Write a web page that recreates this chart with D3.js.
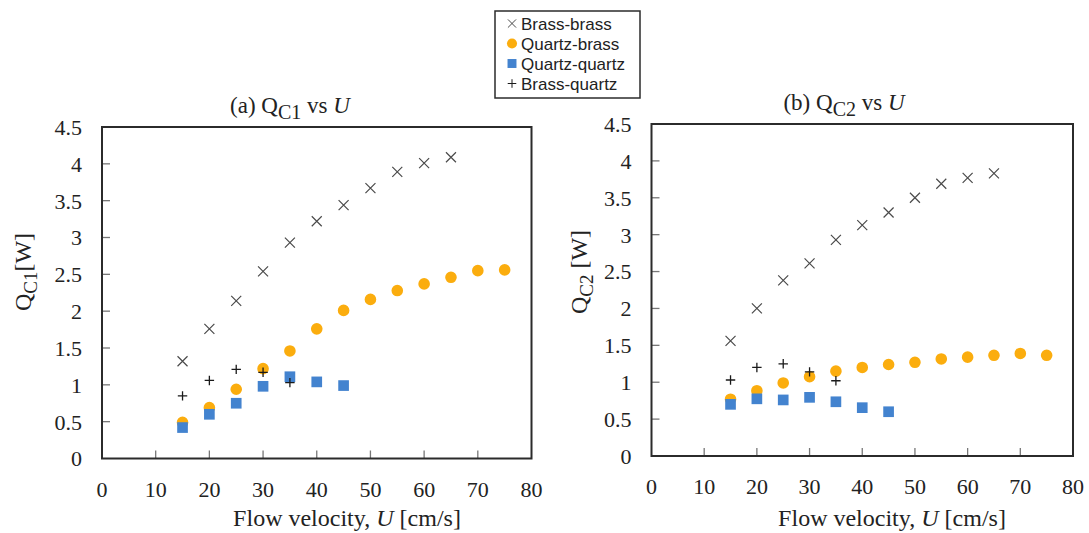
<!DOCTYPE html>
<html>
<head>
<meta charset="utf-8">
<script src="https://cdn.jsdelivr.net/npm/d3@7"></script>
<style>
  body { margin: 0; background: #fff; }
  svg { display: block; }
  .tick-label { font-family: "Liberation Serif", "Times New Roman", serif; font-size: 22px; fill: #222; }
  .axis-title { font-family: "Liberation Serif", "Times New Roman", serif; font-size: 24px; fill: #222; }
  .legend-text { font-family: "Liberation Sans", Arial, sans-serif; font-size: 17px; fill: #222; }
</style>
</head>
<body>
<div class="visHolder"></div>
<script>
// flow velocity values (cm/s), shared by every series
var velocity = [15, 20, 25, 30, 35, 40, 45, 50, 55, 60, 65, 70, 75];

// (a) Q_C1 values [W]
var brassBrass1 = [1.32, 1.76, 2.14, 2.54, 2.93, 3.22, 3.44, 3.67, 3.89, 4.01, 4.09];
var quartzBrass1 = [0.49, 0.69, 0.94, 1.22, 1.46, 1.76, 2.01, 2.16, 2.28, 2.37, 2.46, 2.55, 2.56];
var quartzQuartz1 = [0.42, 0.60, 0.75, 0.98, 1.11, 1.04, 0.99];
var brassQuartz1 = [0.85, 1.06, 1.21, 1.17, 1.03];

// (b) Q_C2 values [W]
var brassBrass2 = [1.56, 2.00, 2.38, 2.61, 2.93, 3.13, 3.30, 3.50, 3.69, 3.77, 3.83];
var quartzBrass2 = [0.77, 0.885, 0.99, 1.075, 1.15, 1.20, 1.24, 1.27, 1.315, 1.34, 1.365, 1.39, 1.365];
var quartzQuartz2 = [0.70, 0.775, 0.76, 0.795, 0.735, 0.655, 0.60];
var brassQuartz2 = [1.03, 1.20, 1.25, 1.14, 1.02];

// axis ticks
var xTicks = [0, 10, 20, 30, 40, 50, 60, 70, 80];
var yTicks = [0, 0.5, 1, 1.5, 2, 2.5, 3, 3.5, 4, 4.5];

// series names for the legend
var seriesNames = ['Brass-brass', 'Quartz-brass', 'Quartz-quartz', 'Brass-quartz'];

var width = 1089,
    height = 533;

// marker look for each series, in drawing order
var markers = [
  { type: d3.symbolX, size: 67, fill: 'none', stroke: '#4a4a4a', sw: 1.2 },
  { type: d3.symbolCircle, size: 106, fill: '#FBAD0E', stroke: 'none', sw: 0 },
  { type: d3.symbolSquare, size: 114, fill: '#4383CF', stroke: 'none', sw: 0 },
  { type: d3.symbolPlus, size: 31, fill: 'none', stroke: '#1a1a1a', sw: 1.3 }
];

var svg = d3.select('.visHolder').append('svg').attr('width', width).attr('height', height);

// one panel = frame, ticks, labels and the four series
function drawPanel(p) {
  var xScale = d3.scaleLinear().domain([0, 80]).range([p.left, p.right]);
  var yScale = d3.scaleLinear().domain([0, 4.5]).range([p.bottom, p.top]);
  var g = svg.append('g');

  // inner tick marks
  g.selectAll('.xt').data(xTicks.slice(1, -1)).enter().append('line')
    .attr('x1', function (d) { return xScale(d); }).attr('x2', function (d) { return xScale(d); })
    .attr('y1', p.bottom).attr('y2', p.bottom - 8)
    .attr('stroke', '#777').attr('stroke-width', 1.3);
  g.selectAll('.yt').data(yTicks.slice(1, -1)).enter().append('line')
    .attr('y1', function (d) { return yScale(d); }).attr('y2', function (d) { return yScale(d); })
    .attr('x1', p.left).attr('x2', p.left + 8)
    .attr('stroke', '#777').attr('stroke-width', 1.3);

  // frame
  g.append('rect').attr('x', p.left).attr('y', p.top)
    .attr('width', p.right - p.left).attr('height', p.bottom - p.top)
    .attr('fill', 'none').attr('stroke', '#2b2b2b').attr('stroke-width', 2);

  // tick labels
  g.selectAll('.xl').data(xTicks).enter().append('text').attr('class', 'tick-label')
    .attr('x', function (d) { return xScale(d); }).attr('y', p.bottom + 38)
    .attr('text-anchor', 'middle').text(function (d) { return d; });
  g.selectAll('.yl').data(yTicks).enter().append('text').attr('class', 'tick-label')
    .attr('x', p.left - 20).attr('y', function (d) { return yScale(d); })
    .attr('dy', '0.36em').attr('text-anchor', 'end').text(function (d) { return d; });

  // series, drawn in legend order so later ones sit on top
  p.series.forEach(function (vals, k) {
    var m = markers[k];
    var sym = d3.symbol().type(m.type).size(m.size);
    g.selectAll('.s' + k).data(vals).enter().append('path')
      .attr('d', sym)
      .attr('transform', function (d, i) { return 'translate(' + xScale(velocity[i]) + ',' + yScale(d) + ')'; })
      .attr('fill', m.fill).attr('stroke', m.stroke).attr('stroke-width', m.sw);
  });

  // panel title: (a) Q_C1 vs U
  var t = g.append('text').attr('class', 'axis-title').attr('x', p.titleX).attr('y', p.titleY)
    .attr('text-anchor', 'middle').style('font-size', '23px');
  t.append('tspan').text(p.letter + ' Q');
  t.append('tspan').attr('dy', 6).style('font-size', '20px').text(p.sub);
  t.append('tspan').attr('dy', -6).text(' vs ');
  t.append('tspan').style('font-style', 'italic').text('U');

  // x axis title
  var xt = g.append('text').attr('class', 'axis-title').attr('x', p.xTitleX).attr('y', 526)
    .attr('text-anchor', 'middle');
  xt.append('tspan').text('Flow velocity, ');
  xt.append('tspan').style('font-style', 'italic').text('U');
  xt.append('tspan').text(' [cm/s]');

  // y axis title, rotated
  var yt = g.append('text').attr('class', 'axis-title')
    .attr('transform', 'translate(' + p.yTitleX + ',' + 272 + ') rotate(-90)')
    .attr('text-anchor', 'middle');
  yt.append('tspan').text('Q');
  yt.append('tspan').attr('dy', 6).style('font-size', '19px').text(p.sub);
  yt.append('tspan').attr('dy', -6).text(p.yGap + '[W]');
}

drawPanel({ left: 102, right: 531.5, top: 127, bottom: 458.5, letter: '(a)', sub: 'C1',
  titleX: 290, titleY: 113, xTitleX: 347, yTitleX: 31, yGap: '',
  series: [brassBrass1, quartzBrass1, quartzQuartz1, brassQuartz1] });
drawPanel({ left: 651.5, right: 1073, top: 124, bottom: 456, letter: '(b)', sub: 'C2',
  titleX: 844, titleY: 110, xTitleX: 892, yTitleX: 587, yGap: ' ',
  series: [brassBrass2, quartzBrass2, quartzQuartz2, brassQuartz2] });

// legend box
var legend = svg.append('g');
legend.append('rect').attr('x', 495).attr('y', 11).attr('width', 145).attr('height', 87)
  .attr('fill', '#fff').attr('stroke', '#2b2b2b').attr('stroke-width', 1.5);
var legendY = d3.scalePoint().domain(seriesNames).range([23.5, 83.5]);
var legendSizes = [45, 80, 80, 26];
seriesNames.forEach(function (name, k) {
  var m = markers[k];
  legend.append('path').attr('d', d3.symbol().type(m.type).size(legendSizes[k]))
    .attr('transform', 'translate(512,' + legendY(name) + ')')
    .attr('fill', m.fill).attr('stroke', m.stroke).attr('stroke-width', m.sw ? 1 : 0);
  legend.append('text').attr('class', 'legend-text').attr('x', 521).attr('y', legendY(name))
    .attr('dy', '0.36em').text(name);
});
</script>
</body>
</html>
